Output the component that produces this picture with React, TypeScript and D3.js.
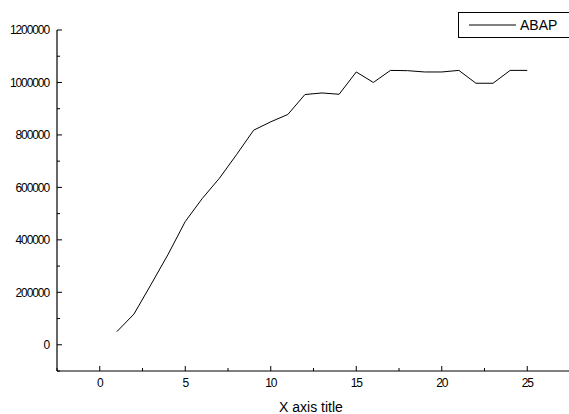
import React from "react";
import * as d3 from "d3";

const xValues = [1, 2, 3, 4, 5, 6, 7, 8, 9, 10, 11, 12, 13, 14, 15, 16, 17, 18, 19, 20, 21, 22, 23, 24, 25];
const abapValues = [50000, 117000, 230000, 345000, 470000, 558000, 635000, 725000, 818000, 850000, 878000, 954000, 960000, 955000, 1040000, 1000000, 1046000, 1045000, 1040000, 1040000, 1046000, 997000, 997000, 1046000, 1046000];
const xTicks = [0, 5, 10, 15, 20, 25];
const xMinorTicks = [-2.5, 2.5, 7.5, 12.5, 17.5, 22.5, 27.5];
const yTicks = [0, 200000, 400000, 600000, 800000, 1000000, 1200000];
const yMinorTicks = [-100000, 100000, 300000, 500000, 700000, 900000, 1100000];
const seriesName = "ABAP";
const xTitle = "X axis title";

const W = 569;
const H = 414;
const left = 57;
const right = 570;
const top = 30;
const bottom = 371;

export default function App() {
  const x = d3.scaleLinear().domain([-2.5, 27.5]).range([left, right]);
  const y = d3.scaleLinear().domain([-100000, 1200000]).range([bottom, top]);
  const pts = xValues.map((v, i) => [v, abapValues[i]] as [number, number]);
  const line = d3
    .line<[number, number]>()
    .x((d) => x(d[0]))
    .y((d) => y(d[1]));
  const font = "Liberation Sans, Arial, sans-serif";
  return (
    <svg
      width={W}
      height={H}
      style={{ position: "absolute", left: 0, top: 0, background: "#fff" }}
    >
      <rect x={0} y={0} width={W} height={H} fill="#fff" />
      <line x1={left} x2={left} y1={top} y2={bottom} stroke="#000" strokeWidth={1.2} />
      <line x1={left} x2={right} y1={bottom} y2={bottom} stroke="#000" strokeWidth={1.2} />
      {yTicks.map((t) => (
        <g key={"y" + t}>
          <line x1={left} x2={left + 5} y1={y(t)} y2={y(t)} stroke="#000" />
          <text
            x={49}
            y={y(t)}
            dy="0.35em"
            textAnchor="end"
            fontFamily={font}
            fontSize={12}
            letterSpacing={-1.1}
            fill="#000"
          >
            {t}
          </text>
        </g>
      ))}
      {yMinorTicks.map((t) => (
        <line key={"ym" + t} x1={left} x2={left + 3} y1={y(t)} y2={y(t)} stroke="#000" />
      ))}
      {xTicks.map((t) => (
        <g key={"x" + t}>
          <line x1={x(t)} x2={x(t)} y1={bottom} y2={bottom - 5} stroke="#000" />
          <text
            x={x(t)}
            y={383}
            dy="0.35em"
            textAnchor="middle"
            fontFamily={font}
            fontSize={12}
            letterSpacing={-1.1}
            fill="#000"
          >
            {t}
          </text>
        </g>
      ))}
      {xMinorTicks.map((t) => (
        <line key={"xm" + t} x1={x(t)} x2={x(t)} y1={bottom} y2={bottom - 3} stroke="#000" />
      ))}
      <text
        x={311}
        y={407}
        dy="0.35em"
        textAnchor="middle"
        fontFamily={font}
        fontSize={14}
        fill="#000"
      >
        {xTitle}
      </text>
      <path d={line(pts) || ""} fill="none" stroke="#000" strokeWidth={1} />
      <rect x={458.5} y={12.5} width={120} height={25} fill="#fff" stroke="#000" strokeWidth={1} />
      <line x1={469} x2={516} y1={25} y2={25} stroke="#000" />
      <text
        x={520}
        y={25}
        dy="0.35em"
        fontFamily={font}
        fontSize={14}
        fill="#000"
      >
        {seriesName}
      </text>
    </svg>
  );
}
